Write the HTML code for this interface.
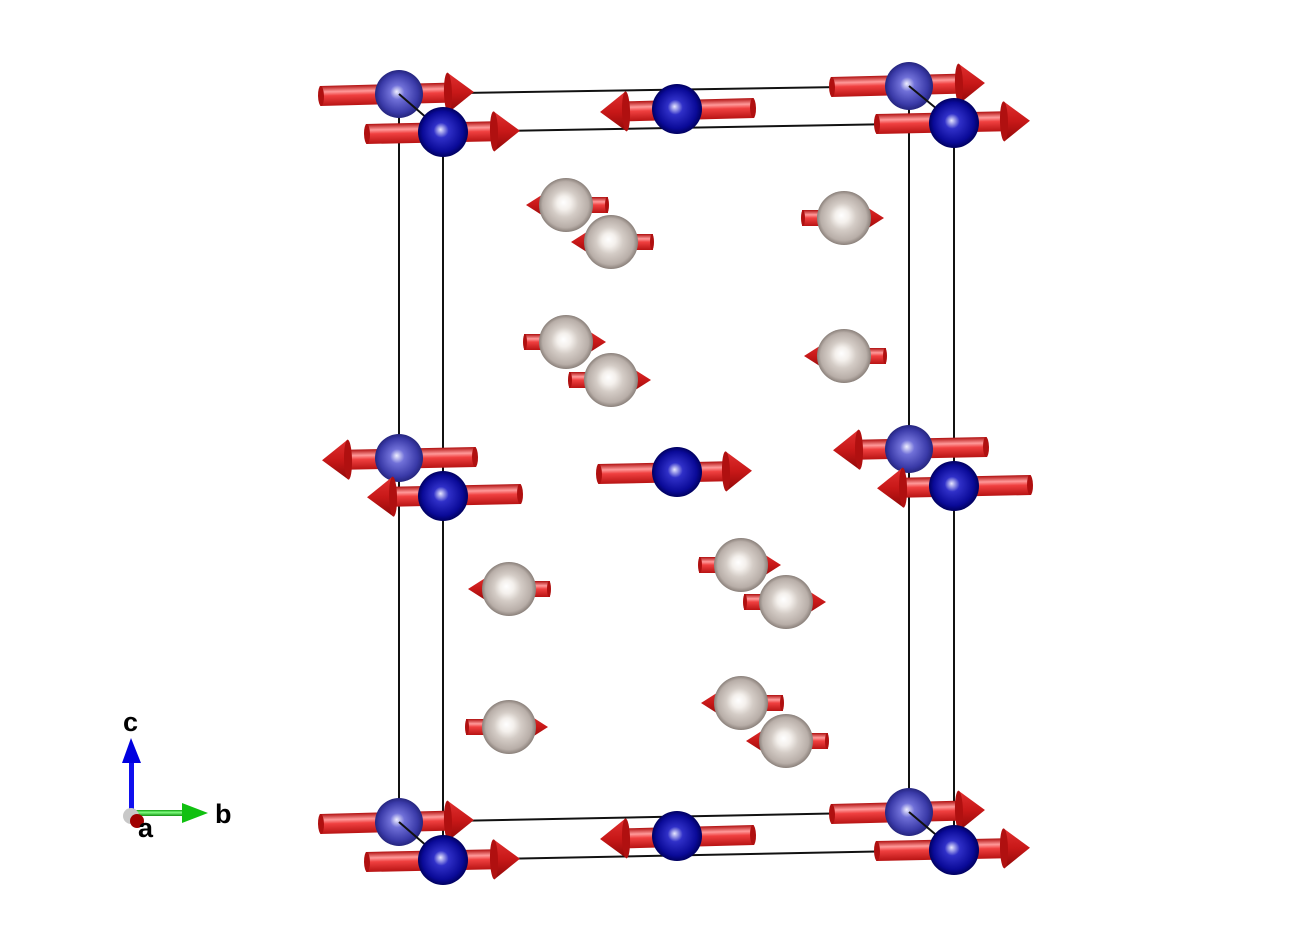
<!DOCTYPE html>
<html><head><meta charset="utf-8"><style>html,body{margin:0;padding:0;background:#fff}svg{display:block}</style></head><body>
<svg width="1310" height="946" viewBox="0 0 1310 946" xmlns="http://www.w3.org/2000/svg">
<defs>
<linearGradient id="cyl" x1="0" y1="0" x2="0" y2="1">
<stop offset="0" stop-color="#b01010"/><stop offset="0.3" stop-color="#ff9a9a"/><stop offset="0.5" stop-color="#f04040"/><stop offset="1" stop-color="#b81414"/></linearGradient>
<linearGradient id="cone" x1="0" y1="0" x2="0" y2="1">
<stop offset="0" stop-color="#e03030"/><stop offset="0.5" stop-color="#c81818"/><stop offset="1" stop-color="#900808"/></linearGradient>
<radialGradient id="gb" cx="0.5" cy="0.5" r="0.5" fx="0.45" fy="0.45"><stop offset="0" stop-color="#f0f0ff"/><stop offset="0.3" stop-color="#7070d8"/><stop offset="0.8" stop-color="#3a3aa8"/><stop offset="1" stop-color="#25257e"/></radialGradient>
<radialGradient id="gd" cx="0.5" cy="0.5" r="0.5" fx="0.45" fy="0.45"><stop offset="0" stop-color="#e8e8ff"/><stop offset="0.3" stop-color="#3030c8"/><stop offset="0.8" stop-color="#0a0a98"/><stop offset="1" stop-color="#000060"/></radialGradient>
<radialGradient id="gg" cx="0.5" cy="0.5" r="0.5" fx="0.45" fy="0.45"><stop offset="0" stop-color="#ffffff"/><stop offset="0.25" stop-color="#f4f0ec"/><stop offset="0.5" stop-color="#d4ccc6"/><stop offset="0.85" stop-color="#b8aea8"/><stop offset="1" stop-color="#8a807a"/></radialGradient>
<g id="A">
<rect x="0" y="-10" width="130" height="20" fill="url(#cyl)"/>
<ellipse cx="1" cy="0" rx="3" ry="10" fill="#b01010"/>
<polygon points="128,-20 154,0 128,20" fill="url(#cone)"/>
<ellipse cx="128" cy="0" rx="4" ry="20" fill="#b01010"/>
</g>
<g id="S">
<rect x="0" y="-8" width="62" height="16" fill="url(#cyl)"/>
<ellipse cx="1" cy="0" rx="2" ry="8" fill="#b01010"/>
<polygon points="60,-14 82,0 60,14" fill="url(#cone)"/>
<ellipse cx="60" cy="0" rx="3" ry="14" fill="#c01010"/>
</g>
<linearGradient id="gcyl" x1="0" y1="0" x2="0" y2="1"><stop offset="0" stop-color="#10a010"/><stop offset="0.4" stop-color="#80ff80"/><stop offset="1" stop-color="#109010"/></linearGradient>
</defs>
<g stroke="#111" stroke-width="2" fill="none">
<line x1="399" y1="94" x2="909" y2="86"/>
<line x1="443" y1="132" x2="954" y2="123"/>
<line x1="399" y1="822" x2="909" y2="812"/>
<line x1="443" y1="860" x2="954" y2="850"/>
<line x1="399" y1="94" x2="399" y2="822"/>
<line x1="443" y1="132" x2="443" y2="860"/>
<line x1="909" y1="86" x2="909" y2="812"/>
<line x1="954" y1="123" x2="954" y2="850"/>
</g>
<use href="#S" transform="translate(608,205) scale(-1,1)"/><circle cx="566" cy="205" r="27" fill="url(#gg)"/>
<use href="#S" transform="translate(653,242) scale(-1,1)"/><circle cx="611" cy="242" r="27" fill="url(#gg)"/>
<use href="#S" transform="translate(802,218)"/><circle cx="844" cy="218" r="27" fill="url(#gg)"/>
<use href="#S" transform="translate(524,342)"/><circle cx="566" cy="342" r="27" fill="url(#gg)"/>
<use href="#S" transform="translate(569,380)"/><circle cx="611" cy="380" r="27" fill="url(#gg)"/>
<use href="#S" transform="translate(886,356) scale(-1,1)"/><circle cx="844" cy="356" r="27" fill="url(#gg)"/>
<use href="#S" transform="translate(550,589) scale(-1,1)"/><circle cx="509" cy="589" r="27" fill="url(#gg)"/>
<use href="#S" transform="translate(699,565)"/><circle cx="741" cy="565" r="27" fill="url(#gg)"/>
<use href="#S" transform="translate(744,602)"/><circle cx="786" cy="602" r="27" fill="url(#gg)"/>
<use href="#S" transform="translate(466,727)"/><circle cx="509" cy="727" r="27" fill="url(#gg)"/>
<use href="#S" transform="translate(783,703) scale(-1,1)"/><circle cx="741" cy="703" r="27" fill="url(#gg)"/>
<use href="#S" transform="translate(828,741) scale(-1,1)"/><circle cx="786" cy="741" r="27" fill="url(#gg)"/>
<use href="#A" transform="translate(320,96) rotate(-1.5)"/><circle cx="399" cy="94" r="24" fill="url(#gb)"/>
<use href="#A" transform="translate(831,87) rotate(-1.5)"/><circle cx="909" cy="86" r="24" fill="url(#gb)"/>
<use href="#A" transform="translate(754,108) rotate(-1.5) scale(-1,1)"/><circle cx="677" cy="109" r="25" fill="url(#gd)"/>
<line x1="399" y1="94" x2="443" y2="132" stroke="#111" stroke-width="2"/>
<line x1="909" y1="86" x2="954" y2="123" stroke="#111" stroke-width="2"/>
<use href="#A" transform="translate(366,134) rotate(-1.2)"/><circle cx="443" cy="132" r="25" fill="url(#gd)"/>
<use href="#A" transform="translate(876,124) rotate(-1.2)"/><circle cx="954" cy="123" r="25" fill="url(#gd)"/>
<use href="#A" transform="translate(476,457) rotate(-1.2) scale(-1,1)"/><circle cx="399" cy="458" r="24" fill="url(#gb)"/>
<use href="#A" transform="translate(987,447) rotate(-1.2) scale(-1,1)"/><circle cx="909" cy="449" r="24" fill="url(#gb)"/>
<use href="#A" transform="translate(598,474) rotate(-1.2)"/><circle cx="677" cy="472" r="25" fill="url(#gd)"/>
<use href="#A" transform="translate(521,494) rotate(-1.2) scale(-1,1)"/><circle cx="443" cy="496" r="25" fill="url(#gd)"/>
<use href="#A" transform="translate(1031,485) rotate(-1.2) scale(-1,1)"/><circle cx="954" cy="486" r="25" fill="url(#gd)"/>
<use href="#A" transform="translate(320,824) rotate(-1.5)"/><circle cx="399" cy="822" r="24" fill="url(#gb)"/>
<use href="#A" transform="translate(831,814) rotate(-1.5)"/><circle cx="909" cy="812" r="24" fill="url(#gb)"/>
<use href="#A" transform="translate(754,835) rotate(-1.5) scale(-1,1)"/><circle cx="677" cy="836" r="25" fill="url(#gd)"/>
<line x1="399" y1="822" x2="443" y2="860" stroke="#111" stroke-width="2"/>
<line x1="909" y1="812" x2="954" y2="850" stroke="#111" stroke-width="2"/>
<use href="#A" transform="translate(366,862) rotate(-1.2)"/><circle cx="443" cy="860" r="25" fill="url(#gd)"/>
<use href="#A" transform="translate(876,851) rotate(-1.2)"/><circle cx="954" cy="850" r="25" fill="url(#gd)"/>
<rect x="129" y="758" width="5" height="55" fill="#1010ee"/>
<polygon points="122,763 131,738 141,763" fill="#0000e0"/>
<rect x="133" y="810" width="52" height="6" fill="url(#gcyl)"/>
<polygon points="182,803 208,813 182,823" fill="#10c010"/>
<circle cx="131" cy="816" r="8" fill="#c8c8c8"/>
<circle cx="137" cy="821" r="7" fill="#a00000"/>
<g font-family="Liberation Sans, sans-serif" font-weight="bold" font-size="27" fill="#000">
<text x="123" y="731">c</text>
<text x="215" y="823">b</text>
<text x="138" y="837">a</text>
</g>
</svg>
</body></html>
